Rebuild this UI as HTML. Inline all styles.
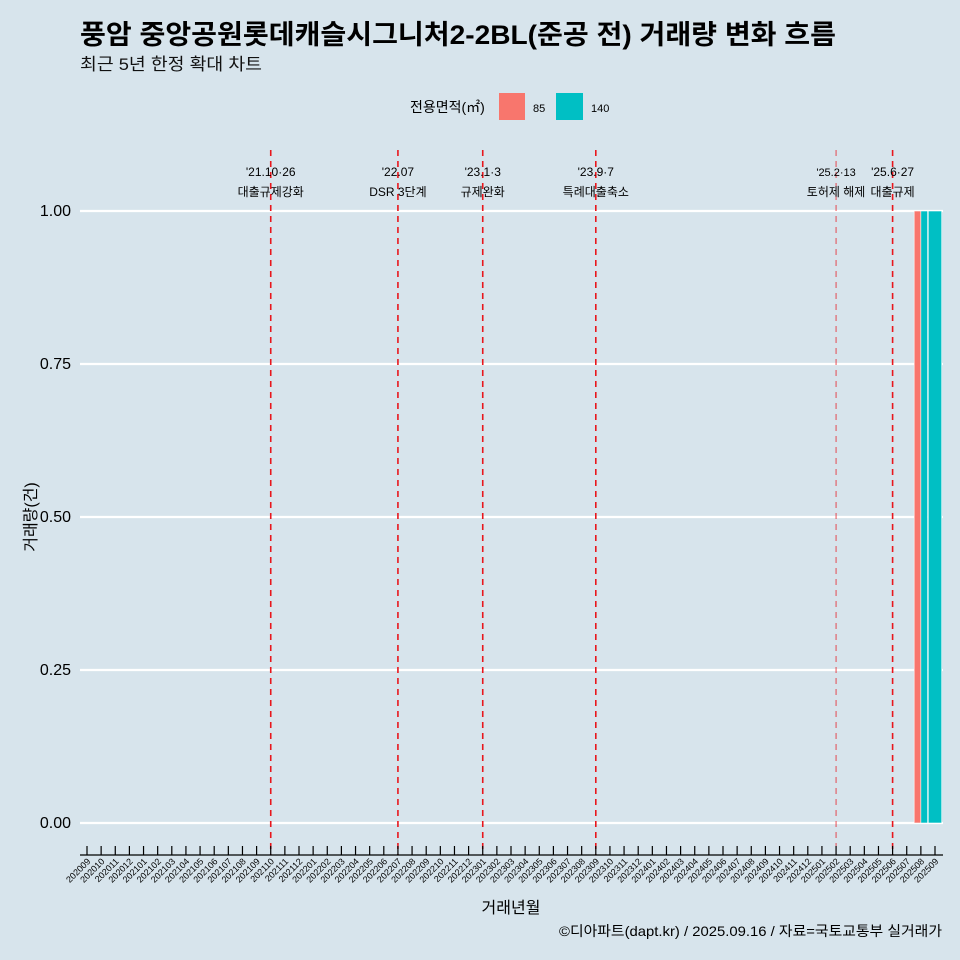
<!DOCTYPE html>
<html><head><meta charset="utf-8"><style>
body{margin:0;background:#d7e4ec;}
svg{display:block;font-family:"Liberation Sans","Noto Sans CJK KR",sans-serif;}
</style></head><body>
<svg id="c" width="960" height="960" viewBox="0 0 960 960">
<rect width="960" height="960" fill="#d7e4ec"/>
<text x="80" y="44" font-size="27" font-weight="bold" fill="#000" textLength="756" lengthAdjust="spacingAndGlyphs">풍암 중앙공원롯데캐슬시그니처2-2BL(준공 전) 거래량 변화 흐름</text>
<text x="80" y="70" font-size="17" fill="#111" textLength="182" lengthAdjust="spacingAndGlyphs">최근 5년 한정 확대 차트</text>
<g>
<text x="410" y="112" font-size="14">전용면적(㎡)</text>
<rect x="499" y="93" width="26" height="27" fill="#f8766d"/>
<text x="533" y="112" font-size="11">85</text>
<rect x="556" y="93" width="27" height="27" fill="#00bfc4"/>
<text x="591" y="112" font-size="11">140</text>
</g>
<g id="grid"></g><g id="bars"></g><g id="events"></g><g id="axes"></g>
<text x="36" y="517" font-size="16" text-anchor="middle" transform="rotate(-90 36 517)">거래량(건)</text>
<text x="511" y="913" font-size="16" text-anchor="middle">거래년월</text>
<text x="942" y="936" font-size="14" text-anchor="end" textLength="383" lengthAdjust="spacingAndGlyphs">©디아파트(dapt.kr) / 2025.09.16 / 자료=국토교통부 실거래가</text>
</svg>
<script>
const months=[];for(let y=2020;y<=2025;y++)for(let m=1;m<=12;m++){const k=y*100+m;if(k>=202009&&k<=202509)months.push(String(k));}
const yTicks=[0,0.25,0.5,0.75,1];
const yTickLabels=["0.00","0.25","0.50","0.75","1.00"];
const barMonths=["202508","202508","202509"];
const barSeries=["85","140","140"];
const barValues=[1,1,1];
const eventMonths=["202110","202207","202301","202309","202502","202506"];
const eventLine1=["'21.10·26","'22.07","'23.1·3","'23.9·7","'25.2·13","'25.6·27"];
const eventLine2=["대출규제강화","DSR 3단계","규제완화","특례대출축소","토허제 해제","대출규제"];
const NS="http://www.w3.org/2000/svg";
const X0=87,DX=(935-87)/60;
const xs=m=>X0+months.indexOf(m)*DX;
const ys=v=>823-v*612;
function mk(p,t,a){const e=document.createElementNS(NS,t);for(const k in a)e.setAttribute(k,a[k]);document.getElementById(p).appendChild(e);return e;}
yTicks.forEach((v,i)=>{
 const l=mk('grid','line',{x1:80,x2:943,y1:ys(v),y2:ys(v),stroke:'#fff','stroke-width':2.2});
 
 
 const t=mk('axes','text',{x:71,y:ys(v)+5,'font-size':16,'text-anchor':'end'});t.textContent=yTickLabels[i];
 
 
});
const colors={"85":"#f8766d","140":"#00bfc4"};
const BW=13.4;
barMonths.forEach((m,i)=>{
 const same=barMonths.map((mm,j)=>mm===m?j:-1).filter(j=>j>=0);
 const n=same.length,k=same.indexOf(i),w=BW/n;
 const x=xs(m)-BW/2+k*w;
 const r=mk('bars','rect',{x:x,y:ys(barValues[i]),width:w,height:ys(0)-ys(barValues[i]),fill:colors[barSeries[i]],stroke:'#fff','stroke-width':0.6});
 
 
});
eventMonths.forEach((m,i)=>{
 const x=xs(m),thin=m==="202502";
 const l=mk('events','line',{x1:x,x2:x,y1:150,y2:855,stroke:'#e8161c','stroke-width':thin?1:1.6,'stroke-dasharray':'6,5',opacity:thin?0.75:1});
 
 
 const t1=mk('events','text',{x:x,y:176,'font-size':thin?11:12,'text-anchor':'middle'});t1.textContent=eventLine1[i];
 
 
 const t2=mk('events','text',{x:x,y:196,'font-size':12,'text-anchor':'middle'});t2.textContent=eventLine2[i];
 
 
});
const ax=mk('axes','line',{x1:80,x2:943,y1:855,y2:855,stroke:'#000','stroke-width':1.2});


months.forEach(m=>{
 const x=xs(m);
 const tk=mk('axes','line',{x1:x,x2:x,y1:846,y2:855,stroke:'#000','stroke-width':1.2});
 
 
 const t=mk('axes','text',{x:x+4,y:862,'font-size':9,'text-anchor':'end',transform:`rotate(-45 ${x+4} 862)`});t.textContent=m;
 
 
});
</script>
</body></html>
